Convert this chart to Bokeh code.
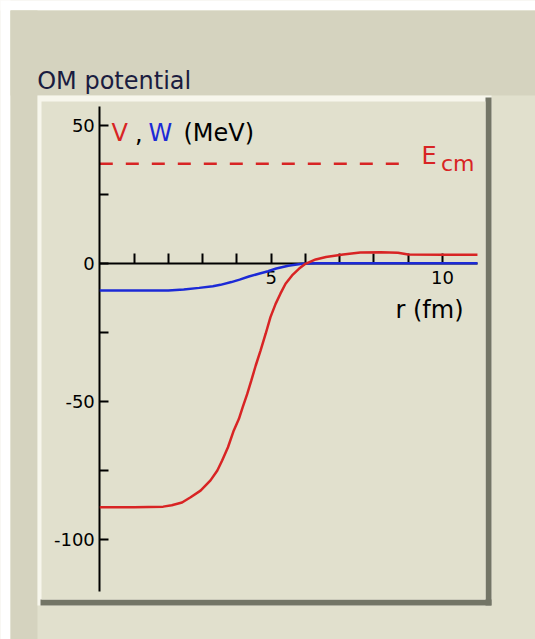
from bokeh.plotting import figure
from bokeh.models import LinearAxis, FixedTicker, Range1d, BoxAnnotation, Label
from bokeh.embed import file_html
from bokeh.resources import INLINE

# ---------------- data ----------------
R_V = [0.0, 1.0, 1.85, 2.1, 2.4, 2.65, 2.94, 3.23, 3.43, 3.57, 3.74, 3.91, 4.06,
       4.17, 4.30, 4.42, 4.55, 4.69, 4.84, 4.98, 5.13, 5.27, 5.42, 5.61, 5.81,
       6.0, 6.3, 6.6, 7.1, 7.6, 8.2, 8.7, 9.0, 10.0, 11.02]
V_REAL = [-88.3, -88.3, -88.1, -87.6, -86.6, -84.7, -82.3, -78.6, -75.0, -71.4,
          -66.6, -60.5, -56.3, -52.1, -47.4, -42.5, -37.0, -31.6, -25.5, -19.5,
          -14.7, -11.0, -7.4, -4.4, -2.0, -0.2, 1.4, 2.3, 3.2, 3.9, 4.0, 3.8,
          3.2, 3.1, 3.1]

R_W = [0.0, 1.0, 2.0, 2.45, 2.9, 3.3, 3.52, 3.84, 4.08, 4.35, 4.64, 4.91, 5.15,
       5.5, 5.9, 6.3, 8.0, 11.02]
W_IMAG = [-9.85, -9.85, -9.85, -9.5, -8.9, -8.3, -7.8, -6.8, -5.9, -4.8, -3.8,
          -2.9, -1.9, -0.9, -0.2, 0.0, 0.0, 0.0]

E_CM = 36.0
ECM_R = [0.0, 8.93]

X_TICKS = [1, 2, 3, 4, 5, 6, 7, 8, 9, 10]
X_LABELS = {1: "", 2: "", 3: "", 4: "", 5: "5", 6: "", 7: "", 8: "", 9: "", 10: "10"}
Y_TICKS = [-100, -75, -50, -25, 0, 25, 50]
Y_LABELS = {-100: "-100", -75: "", -50: "-50", -25: "", 0: "0", 25: "", 50: "50"}
X_AXIS_EXTENT = (0, 11.03)
Y_AXIS_EXTENT = (-118.7, 56.8)

# ---------------- page geometry (pixels -> data) ----------------
X0, SX = 99.3, 34.27     # page x of r=0, pixels per fm
Y0, SY = 262.8, 2.762    # page y of V=0, pixels per MeV
OFF = 0                  # page offset of the canvas


def dx(px):
    return (px - X0) / SX


def dy(py):
    return (Y0 - py) / SY


W_PX, H_PX = 535, 639
LIGHT = "#e1e0cd"
DARKBG = "#d5d3bf"
EDGE_LIGHT = "#f7f6ec"
EDGE_DARK = "#737566"
FONT = "DejaVu Sans"

p = figure(width=W_PX, height=H_PX,
           x_range=Range1d(dx(OFF), dx(OFF + W_PX)),
           y_range=Range1d(dy(OFF + H_PX), dy(OFF)),
           x_axis_type=None, y_axis_type=None,
           toolbar_location=None, output_backend="svg",
           min_border=0, outline_line_color=None,
           background_fill_color=LIGHT, border_fill_color="white")


def box(l, r, t, b, color):
    p.add_layout(BoxAnnotation(left=dx(l), right=dx(r), top=dy(t), bottom=dy(b),
                               fill_color=color, fill_alpha=1.0, line_color=None,
                               level="underlay"))


# white page strip, darker outer bands
box(-5, 540, -5, 10, "white")
box(-5, 10, -5, 645, "white")
box(10, 540, 10, 95, DARKBG)
box(10, 37, 10, 645, DARKBG)
# panel 3D frame
box(37, 491, 95, 605, EDGE_LIGHT)
box(485, 491, 97, 605, EDGE_DARK)
box(40, 491, 599, 605, EDGE_DARK)
box(41, 485, 101, 599, LIGHT)

# axes through the origin
xaxis = LinearAxis(fixed_location=0, bounds=X_AXIS_EXTENT,
                   ticker=FixedTicker(ticks=X_TICKS),
                   major_label_overrides=X_LABELS,
                   axis_line_width=2, axis_line_color="black",
                   major_tick_in=10, major_tick_out=0, major_tick_line_width=2,
                   minor_tick_in=0, minor_tick_out=0,
                   major_label_text_font=FONT, major_label_text_font_size="18px",
                   major_label_text_color="black", major_label_standoff=8)
p.add_layout(xaxis, "below")

yaxis = LinearAxis(fixed_location=0, bounds=Y_AXIS_EXTENT,
                   ticker=FixedTicker(ticks=Y_TICKS),
                   major_label_overrides=Y_LABELS,
                   axis_line_width=2, axis_line_color="black",
                   major_tick_in=9, major_tick_out=0, major_tick_line_width=2,
                   minor_tick_in=0, minor_tick_out=0,
                   major_label_text_font=FONT, major_label_text_font_size="18px",
                   major_label_text_color="black", major_label_standoff=5)
p.add_layout(yaxis, "left")

# E_cm dashed line
p.line(ECM_R, [E_CM, E_CM], line_color="#d82424", line_width=2.5,
       line_dash="13 13")

# potentials
p.line(R_W, W_IMAG, line_color="#1c2ad6", line_width=2.5, level="overlay")
p.line(R_V, V_REAL, line_color="#d82424", line_width=2.5, level="overlay")


def label(text, px, py, color="black", size="24px"):
    p.add_layout(Label(x=dx(px), y=dy(py), text=text, text_font=FONT,
                       text_font_size=size, text_color=color,
                       text_align="left", text_baseline="alphabetic"))


label("OM potential", 36.7, 80.7, color="#1a1c40")
label("V", 111.0, 132.7, color="#d82424")
label(",", 134.5, 132.7)
label("W", 148.0, 132.7, color="#1c2ad6")
label("(MeV)", 183.0, 132.7)
label("E", 421.0, 155.0, color="#d82424")
label("cm", 440.5, 163.3, color="#d82424", size="22px")
label("r (fm)", 395.0, 309.5)

open("out.html", "w").write(file_html(p, INLINE))
